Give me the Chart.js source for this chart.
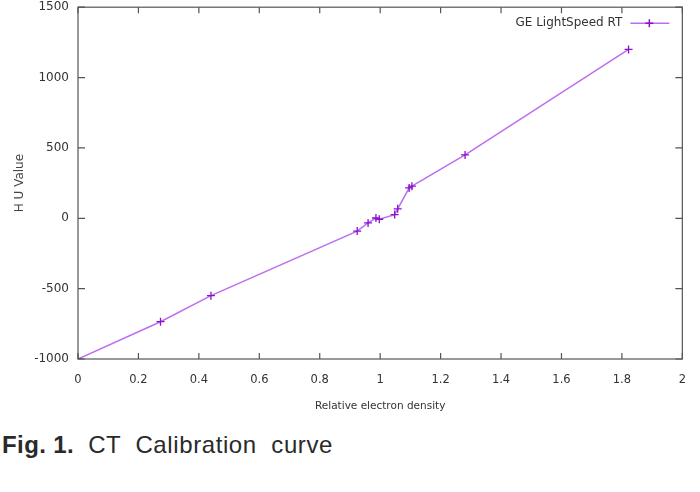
<!DOCTYPE html>
<html>
<head>
<meta charset="utf-8">
<script src="https://cdn.jsdelivr.net/npm/chart.js@4"></script>
<style>
    body { margin: 0; background: #fff; }
    #wrap { position: relative; width: 700px; height: 430px; margin-top: -9px; }
    .caption { font-family: "Liberation Sans", Arial, sans-serif; font-size: 24px; color: #2a2a2a; margin: 10px 0 0 2px; letter-spacing: 0.6px; line-height: 28px; }
    .caption b { margin-right: 14px; letter-spacing: 0.4px; }
</style>
</head>
<body>
<div id="wrap"><canvas id="curve"></canvas></div>
<div class="caption"><b>Fig. 1.</b>CT &nbsp;Calibration &nbsp;curve</div>
<script>
let seriesName = "GE LightSpeed RT";
let density = [0, 0.273, 0.44, 0.924, 0.96, 0.986, 0.997, 1.048, 1.058, 1.096, 1.105, 1.281, 1.822];
let huValue = [-1000, -735, -550, -91, -33, 2, -7, 26, 67, 216, 228, 450, 1200];

let xTicks = [0, 0.2, 0.4, 0.6, 0.8, 1, 1.2, 1.4, 1.6, 1.8, 2];
let yTicks = [-1000, -500, 0, 500, 1000, 1500];

let points = [];
for (let i = 0; i < density.length; i++) {
    points.push({x: density[i], y: huValue[i]});
}

// gnuplot style box: border, inward ticks on all sides, legend inside
const gnuplotFrame = {
    id: "gnuplotFrame",
    afterDraw(chart) {
        const ctx = chart.ctx;
        const a = chart.chartArea;
        const xs = chart.scales.x;
        const ys = chart.scales.y;
        ctx.save();
        ctx.strokeStyle = "#555";
        ctx.lineWidth = 1.2;
        ctx.strokeRect(a.left, a.top, a.right - a.left, a.bottom - a.top);
        ctx.beginPath();
        for (let v of xTicks) {
            let px = xs.getPixelForValue(v);
            ctx.moveTo(px, a.bottom); ctx.lineTo(px, a.bottom - 6);
            ctx.moveTo(px, a.top); ctx.lineTo(px, a.top + 6);
        }
        for (let v of yTicks) {
            let py = ys.getPixelForValue(v);
            ctx.moveTo(a.left, py); ctx.lineTo(a.left + 7, py);
            ctx.moveTo(a.right, py); ctx.lineTo(a.right - 7, py);
        }
        ctx.stroke();

        // legend
        const ds = chart.data.datasets[0];
        let ly = a.top + 16;
        let lx = a.right - 13;
        ctx.font = "12px 'DejaVu Sans'";
        ctx.fillStyle = "#333";
        ctx.textAlign = "right";
        ctx.textBaseline = "middle";
        ctx.fillText(ds.label, lx - 47, ly);
        ctx.strokeStyle = ds.borderColor;
        ctx.lineWidth = 1.5;
        ctx.beginPath();
        ctx.moveTo(lx - 39, ly); ctx.lineTo(lx, ly);
        ctx.stroke();
        ctx.strokeStyle = ds.pointBorderColor;
        ctx.beginPath();
        ctx.moveTo(lx - 20, ly - 4); ctx.lineTo(lx - 20, ly + 4);
        ctx.moveTo(lx - 24, ly); ctx.lineTo(lx - 16, ly);
        ctx.stroke();
        ctx.restore();
    }
};

new Chart(document.getElementById("curve").getContext("2d"), {
    type: "line",
    data: {
        datasets: [{
            label: seriesName,
            data: points,
            borderColor: "#bd6ef0",
            borderWidth: 1.5,
            pointStyle: "cross",
            pointRadius: 4,
            pointBorderWidth: 1.3,
            pointBorderColor: "#8a10d0",
            tension: 0
        }]
    },
    options: {
        responsive: true,
        maintainAspectRatio: false,
        animation: false,
        layout: { padding: { top: 0, right: 12, left: 9, bottom: 0 } },
        scales: {
            x: {
                type: "linear",
                min: 0,
                max: 2,
                afterBuildTicks: (scale) => { scale.ticks = xTicks.map(v => ({value: v})); },
                afterFit: (scale) => { scale.height = 62; },
                grid: { display: false, drawTicks: false },
                border: { display: false },
                ticks: { color: "#333", padding: 14, font: { family: "DejaVu Sans", size: 11.5 }, callback: (v) => String(v) },
                title: { display: true, text: "Relative electron density", color: "#333", padding: { top: 8, bottom: 8 }, font: { family: "DejaVu Sans", size: 10.5 } }
            },
            y: {
                min: -1000,
                max: 1500,
                afterBuildTicks: (scale) => { scale.ticks = yTicks.map(v => ({value: v})); },
                afterFit: (scale) => { scale.width = 69; },
                grid: { display: false, drawTicks: false },
                border: { display: false },
                ticks: { color: "#333", padding: 9, font: { family: "DejaVu Sans", size: 12 }, callback: (v) => String(v) },
                title: { display: true, text: "H U Value", color: "#444", padding: { bottom: 0 }, font: { family: "DejaVu Sans", size: 12 } }
            }
        },
        plugins: {
            legend: { display: false },
            tooltip: { enabled: false }
        }
    },
    plugins: [gnuplotFrame]
});
</script>
</body>
</html>
